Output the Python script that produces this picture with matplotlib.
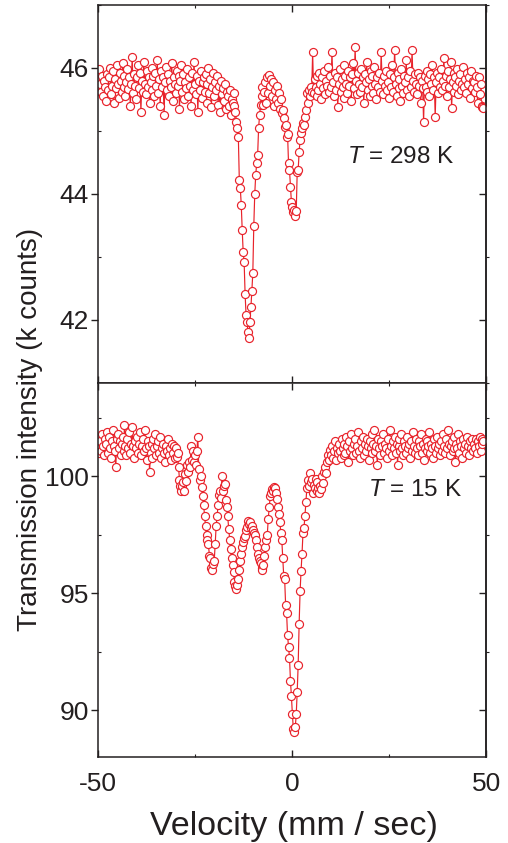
import numpy as np
import matplotlib
matplotlib.use("Agg")
import matplotlib.pyplot as plt
from matplotlib.ticker import MultipleLocator

plt.rcParams['font.family'] = ['Liberation Sans', 'DejaVu Sans']
plt.rcParams['mathtext.fontset'] = 'custom'
plt.rcParams['mathtext.it'] = 'Liberation Sans:italic'
plt.rcParams['mathtext.rm'] = 'Liberation Sans'
plt.rcParams['axes.unicode_minus'] = False

# velocity channels (mm/s)
velocity = np.linspace(-49.9, 49.3, 400)

# transmission at 298 K (k counts)
counts_298 = [
    45.95, 45.98, 45.75, 45.62, 45.88, 45.55, 45.80, 45.70, 45.48, 45.90,
    45.65, 45.85, 46.00, 45.58, 45.72, 45.95, 45.45, 45.82, 45.68, 46.05,
    45.75, 45.52, 45.92, 45.80, 45.62, 46.08, 45.70, 45.88, 45.55, 45.78,
    45.98, 45.66, 45.85, 45.40, 45.75, 46.18, 45.60, 45.90, 45.72, 45.50,
    45.85, 46.05, 45.68, 45.92, 45.30, 45.80, 45.62, 46.10, 45.75, 45.58,
    45.95, 45.70, 45.85, 45.45, 45.78, 46.00, 45.65, 45.88, 45.55, 45.92,
    45.72, 46.12, 45.60, 45.82, 45.40, 45.95, 45.70, 45.85, 45.25, 45.78,
    46.02, 45.65, 45.90, 45.55, 45.80, 45.70, 46.08, 45.48, 45.85, 45.75,
    45.60, 45.95, 45.72, 45.88, 45.35, 45.80, 46.05, 45.62, 45.90, 45.50,
    45.78, 45.68, 45.98, 45.55, 45.85, 45.72, 45.40, 45.92, 45.65, 46.10,
    45.75, 45.58, 45.88, 45.30, 45.80, 45.65, 45.95, 45.52, 45.78, 45.85,
    45.62, 45.90, 45.45, 45.75, 46.00, 45.60, 45.82, 45.38, 45.70, 45.92,
    45.55, 45.78, 45.65, 45.88, 45.42, 45.72, 45.30, 45.80, 45.58, 45.68,
    45.48, 45.75, 45.35, 45.62, 45.55, 45.40, 45.65, 45.25, 45.50, 45.45,
    45.40, 45.60, 45.30, 45.15, 45.05, 44.90, 44.22, 44.10, 43.83, 43.43,
    43.08, 42.92, 42.41, 42.08, 41.97, 41.81, 41.71, 41.97, 42.20, 42.46,
    42.75, 43.49, 44.00, 44.30, 44.49, 44.62, 45.05, 45.25, 45.41, 45.55,
    45.70, 45.42, 45.62, 45.78, 45.45, 45.86, 45.60, 45.89, 45.72, 45.82,
    45.55, 45.78, 45.40, 45.65, 45.50, 45.72, 45.45, 45.60, 45.35, 45.50,
    45.28, 45.33, 45.20, 45.06, 45.10, 44.90, 44.95, 44.49, 44.38, 44.11,
    43.87, 43.80, 43.71, 43.74, 43.65, 43.73, 44.35, 44.38, 44.67, 44.86,
    44.97, 45.05, 45.13, 45.10, 45.22, 45.33, 45.60, 45.45, 45.65, 45.55,
    45.70, 45.62, 46.25, 45.60, 45.82, 45.70, 45.55, 45.88, 45.65, 45.92,
    45.75, 45.50, 45.85, 45.68, 45.95, 45.58, 45.80, 45.72, 46.02, 45.62,
    45.88, 45.70, 46.25, 45.78, 45.55, 45.92, 45.65, 45.85, 45.38, 45.75,
    45.98, 45.62, 45.82, 45.70, 46.05, 45.52, 45.88, 45.75, 45.60, 45.95,
    45.72, 45.85, 45.48, 45.90, 46.08, 45.68, 46.33, 45.80, 45.58, 45.92,
    45.75, 45.62, 45.98, 45.70, 45.85, 45.45, 45.90, 45.78, 46.10, 45.65,
    45.82, 45.55, 45.95, 45.72, 45.88, 45.60, 46.02, 45.75, 45.50, 45.85,
    45.70, 45.92, 45.62, 46.25, 45.80, 45.58, 45.88, 45.72, 45.95, 45.65,
    45.78, 45.52, 45.90, 45.70, 46.05, 45.62, 45.85, 46.29, 45.75, 45.55,
    45.92, 45.68, 45.82, 45.48, 45.98, 45.72, 45.60, 45.88, 45.78, 46.12,
    45.65, 45.85, 45.55, 45.95, 45.70, 46.29, 45.80, 45.62, 45.90, 45.75,
    45.58, 45.92, 45.72, 45.85, 45.45, 45.80, 45.68, 45.14, 45.88, 45.70,
    45.95, 45.62, 45.82, 45.55, 45.90, 45.75, 46.05, 45.65, 45.85, 45.22,
    45.78, 45.92, 45.60, 45.85, 45.70, 45.98, 45.65, 45.80, 46.16, 45.72,
    45.88, 45.55, 45.95, 45.70, 45.82, 46.10, 45.36, 45.78, 45.92, 45.62,
    45.85, 45.72, 45.98, 45.58, 45.80, 45.90, 45.65, 45.75, 46.02, 45.70,
    45.82, 45.60, 45.92, 45.75, 45.85, 45.52, 45.95, 45.68, 45.80, 45.78,
    45.62, 45.88, 45.70, 45.45, 45.85, 45.58, 45.75, 45.40, 45.38, 45.36,
]

# transmission at 15 K (k counts)
counts_15 = [
    101.2, 101.0, 101.5, 101.1, 101.8, 101.3, 100.9, 101.6, 101.4, 101.9,
    101.0, 101.7, 101.2, 100.8, 101.5, 102.0, 101.3, 101.1, 100.4, 101.6,
    101.8, 101.2, 101.5, 100.9, 101.4, 101.7, 101.1, 102.2, 101.3, 100.9,
    101.6, 101.2, 101.9, 101.0, 101.4, 102.1, 101.3, 100.8, 101.5, 101.2,
    101.7, 101.0, 101.4, 101.9, 100.9, 101.3, 101.6, 101.1, 102.0, 101.2,
    100.7, 101.5, 101.3, 100.2, 101.0, 101.4, 100.8, 101.6, 101.2, 101.8,
    100.9, 101.3, 101.5, 101.0, 101.7, 100.8, 101.2, 101.4, 101.0, 100.6,
    101.3, 101.1, 101.6, 100.9, 101.2, 100.7, 101.4, 101.0, 101.3, 100.8,
    101.2, 100.85, 101.0, 100.4, 99.87, 99.58, 99.36, 99.6, 99.75, 99.4,
    100.1, 99.8, 100.5, 100.2, 100.6, 100.4, 101.3, 100.7, 101.1, 100.6,
    100.9, 100.5, 101.1, 101.7, 100.3, 99.87, 100.0, 99.55, 99.15, 98.8,
    98.3, 97.9, 97.5, 97.3, 97.1, 96.6, 96.5, 96.1, 96.0, 96.25,
    96.4, 97.1, 97.9, 98.3, 98.8, 99.2, 99.4, 99.1, 100.0, 99.4,
    99.6, 99.66, 99.0, 98.7, 98.3, 97.75, 97.3, 96.9, 96.5, 96.2,
    95.9, 95.5, 95.3, 95.2, 95.35, 95.6, 96.0, 96.4, 96.7, 97.0,
    97.2, 97.35, 97.46, 97.7, 97.84, 98.1, 97.95, 98.05, 97.8, 97.9,
    97.7, 97.6, 97.5, 97.3, 97.0, 96.7, 96.5, 96.4, 96.3, 96.1,
    96.0, 96.2, 96.6, 97.0, 97.3, 97.5, 98.2, 98.7, 99.15, 99.3,
    99.45, 99.4, 99.53, 99.5, 99.3, 99.05, 98.7, 98.4, 98.05, 97.6,
    97.3, 96.5, 95.76, 95.6, 94.5, 94.15, 93.2, 92.7, 92.25, 91.27,
    90.6, 89.83, 89.2, 89.07, 89.28, 89.83, 90.8, 91.95, 93.7, 95.1,
    95.97, 96.7, 97.6, 97.8, 98.3, 98.9, 99.5, 99.87, 99.6, 100.17,
    99.75, 99.9, 99.3, 99.65, 99.5, 99.9, 99.4, 99.75, 99.5, 99.3,
    99.6, 99.45, 100.0, 99.7, 100.2, 100.4, 100.15, 100.6, 100.9, 100.7,
    101.15, 100.9, 101.3, 100.8, 101.1, 101.5, 100.7, 101.2, 101.0, 101.4,
    101.1, 100.8, 101.6, 101.2, 100.9, 101.4, 101.0, 101.7, 101.3, 100.6,
    101.5, 101.1, 101.8, 101.2, 100.9, 101.4, 101.6, 101.0, 101.3, 101.9,
    101.1, 100.8, 101.5, 101.2, 101.7, 100.9, 101.4, 101.1, 101.6, 101.3,
    100.7, 101.5, 101.2, 101.8, 101.0, 101.4, 102.0, 101.1, 101.3, 100.5,
    101.6, 101.2, 100.9, 101.5, 101.3, 101.8, 101.0, 101.4, 101.2, 100.8,
    101.6, 101.1, 102.0, 101.3, 100.9, 101.5, 101.2, 101.7, 101.0, 101.4,
    100.5, 101.3, 101.6, 101.1, 101.8, 101.2, 100.9, 101.5, 101.3, 101.0,
    101.7, 101.2, 101.4, 100.8, 101.5, 101.1, 101.9, 101.3, 101.0, 101.6,
    101.2, 100.9, 101.5, 101.3, 101.8, 101.0, 101.4, 100.7, 101.2, 101.6,
    101.1, 101.5, 101.3, 101.9, 101.0, 101.4, 101.2, 100.8, 101.6, 101.3,
    101.0, 101.7, 101.2, 101.4, 100.9, 101.5, 101.1, 101.8, 101.3, 101.0,
    101.6, 101.2, 102.0, 101.4, 100.9, 101.3, 101.5, 101.1, 101.7, 101.2,
    100.6, 101.4, 101.2, 101.8, 101.0, 101.5, 101.3, 100.8, 101.6, 101.2,
    101.4, 101.0, 101.7, 101.3, 100.9, 101.5, 101.2, 101.6, 101.1, 101.4,
    101.2, 101.6, 101.0, 101.5, 101.3, 101.7, 101.1, 101.4, 101.6, 101.5,
]

panels = [
    (counts_298, (41, 47), [42, 44, 46], 1, r'$T$ = 298 K', (0.642, 0.598)),
    (counts_15, (88, 104), [90, 95, 100], 2.5, r'$T$ = 15 K', (0.696, 0.714)),
]

red = '#e8222a'
ink = '#231f20'

fig = plt.figure(figsize=(5.08, 8.43), dpi=100)
ax_top = fig.add_axes([0.193, 0.5457, 0.764, 0.4484])
ax_bot = fig.add_axes([0.193, 0.1020, 0.764, 0.4437], sharex=ax_top)

for ax, (counts, ylim, yticks, ystep, label, pos) in zip([ax_top, ax_bot], panels):
    ax.plot(velocity, counts, '-o', color=red, lw=0.85, ms=5.8,
            mfc='white', mec=red, mew=0.85)
    ax.set_xlim(-50, 50)
    ax.set_ylim(*ylim)
    ax.set_xticks([-50, 0, 50])
    ax.xaxis.set_minor_locator(MultipleLocator(25))
    ax.set_yticks(yticks)
    ax.yaxis.set_minor_locator(MultipleLocator(ystep))
    ax.tick_params(axis='x', which='both', direction='in', top=True,
                   colors=ink, labelsize=19, pad=11)
    ax.tick_params(axis='x', which='major', length=5, width=1)
    ax.tick_params(axis='x', which='minor', length=2.5, width=0.8)
    ax.tick_params(axis='y', which='major', direction='out', length=5,
                   width=1, colors=ink, labelsize=19, pad=1.5)
    ax.tick_params(axis='y', which='minor', direction='in', length=2.5,
                   width=0.8, colors=ink)
    for s in ax.spines.values():
        s.set_color(ink)
        s.set_linewidth(1.1)

    # right-hand axis carries mirrored ticks
    sec = ax.secondary_yaxis('right')
    sec.set_yticks(yticks)
    sec.yaxis.set_minor_locator(MultipleLocator(ystep))
    sec.tick_params(which='major', direction='in', length=5, width=1,
                    colors=ink, labelright=False)
    sec.tick_params(which='minor', direction='out', length=2.5, width=0.8,
                    colors=ink)
    sec.spines['right'].set_color(ink)
    sec.spines['right'].set_linewidth(1.1)

    ax.text(pos[0], pos[1], label, transform=ax.transAxes, fontsize=17.5,
            color=ink, ha='left', va='center')

ax_top.tick_params(axis='x', labelbottom=False)

fig.text(0.059, 0.49, 'Transmission intensity (k counts)', rotation=90,
         ha='center', va='center', fontsize=20, color=ink)
fig.text(0.578, 0.0095, 'Velocity (mm / sec)', ha='center', va='baseline',
         fontsize=24.5, color=ink)

fig.savefig('out.png', dpi=100)
